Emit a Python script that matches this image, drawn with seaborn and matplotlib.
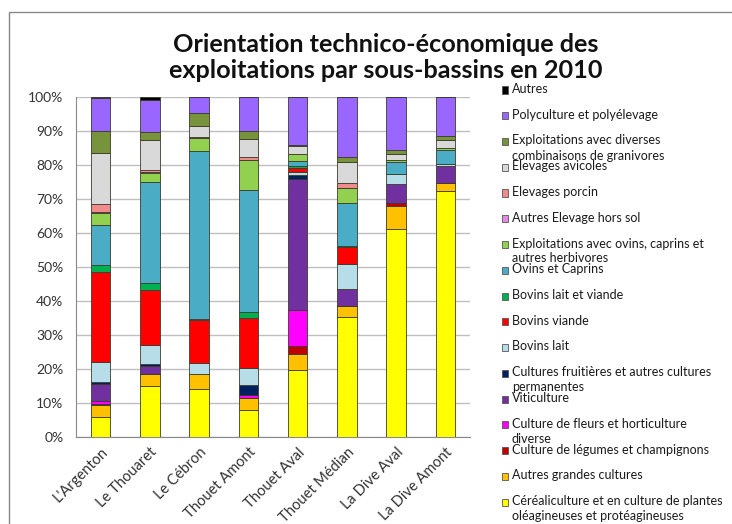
import pandas as pd
import numpy as np
import matplotlib
matplotlib.use('Agg')
import matplotlib.pyplot as plt
import seaborn as sns
from matplotlib.patches import Rectangle

# Data (parts in %)
bassins = ["L'Argenton", "Le Thouaret", "Le Cébron", "Thouet Amont",
           "Thouet Aval", "Thouet Médian", "La Dive Aval", "La Dive Amont"]

# legend order (top -> bottom), stack order is the reverse
types = ["Autres",
         "Polyculture et polyélevage",
         "Exploitations avec diverses\ncombinaisons de granivores",
         "Elevages avicoles",
         "Elevages porcin",
         "Autres Elevage hors sol",
         "Exploitations avec ovins, caprins et\nautres herbivores",
         "Ovins et Caprins",
         "Bovins lait et viande",
         "Bovins viande",
         "Bovins lait",
         "Cultures fruitières et autres cultures\npermanentes",
         "Viticulture",
         "Culture de fleurs et horticulture\ndiverse",
         "Culture de légumes et champignons",
         "Autres grandes cultures",
         "Céréaliculture et en culture de plantes\noléagineuses et protéagineuses"]

colors = ["#000000", "#9966FF", "#77933C", "#D9D9D9", "#F28C8C", "#E68AE6",
          "#92D050", "#4BACC6", "#00B050", "#FF0000", "#B7DEE8", "#002060",
          "#7030A0", "#FF00FF", "#C00000", "#FFC000", "#FFFF00"]

autres        = [0.4, 0.8, 0.0, 0.0, 0.0, 0.0, 0.0, 0.0]
polyculture   = [9.6, 9.5, 4.7, 10.0, 14.0, 17.5, 15.7, 11.6]
granivores    = [6.5, 2.2, 3.9, 2.3, 0.5, 1.6, 1.2, 1.1]
avicoles      = [14.9, 8.9, 3.2, 5.3, 2.2, 6.2, 1.5, 2.2]
porcin        = [2.5, 0.8, 0.2, 1.0, 0.0, 1.4, 0.0, 0.0]
hors_sol      = [0.2, 0.2, 0.0, 0.0, 0.0, 0.0, 0.0, 0.0]
ovins_herb    = [3.6, 2.6, 4.0, 8.7, 2.2, 4.5, 0.7, 0.8]
ovins_caprins = [11.6, 29.6, 49.2, 35.9, 1.5, 12.6, 3.4, 4.1]
bovins_mixte  = [2.2, 2.1, 0.3, 1.8, 0.5, 0.3, 0.0, 0.0]
bovins_viande = [26.5, 16.3, 12.7, 14.7, 1.1, 4.9, 0.0, 0.0]
bovins_lait   = [5.9, 5.6, 3.2, 5.0, 1.0, 7.4, 3.2, 0.6]
fruitieres    = [0.4, 0.6, 0.0, 2.8, 1.0, 0.0, 0.0, 0.0]
viticulture   = [5.2, 2.4, 0.0, 0.0, 38.7, 5.2, 5.5, 4.9]
fleurs        = [0.7, 0.0, 0.0, 0.9, 10.5, 0.0, 0.0, 0.0]
legumes       = [0.3, 0.0, 0.0, 0.0, 2.3, 0.0, 1.0, 0.0]
grandes_cult  = [3.6, 3.4, 4.6, 3.6, 4.9, 3.1, 6.5, 2.2]
cereales      = [5.9, 15.0, 14.0, 8.0, 19.6, 35.3, 61.3, 72.5]

series = [autres, polyculture, granivores, avicoles, porcin, hors_sol,
          ovins_herb, ovins_caprins, bovins_mixte, bovins_viande, bovins_lait,
          fruitieres, viticulture, fleurs, legumes, grandes_cult, cereales]

rows = []
for t, vals in zip(types, series):
    for b, v in zip(bassins, vals):
        rows.append({"bassin": b, "type": t, "pct": v})
df = pd.DataFrame(rows)
df["x"] = df["bassin"].map({b: i for i, b in enumerate(bassins)})

sns.set_style("white")
plt.rcParams['font.family'] = ['Lato', 'DejaVu Sans']

W, H = 732, 524
fig = plt.figure(figsize=(W / 100, H / 100), dpi=100)
ax = fig.add_axes([76 / W, 1 - 437 / H, (470 - 76) / W, (437 - 97) / H])

sns.histplot(data=df, x="x", weights="pct", hue="type", hue_order=types,
             palette=dict(zip(types, colors)), multiple="stack", discrete=True,
             shrink=0.4, alpha=1, edgecolor="#3b3b2b", linewidth=0.6,
             legend=False, ax=ax, zorder=3)

ax.set_xlim(-0.5, 7.5)
ax.set_ylim(0, 100)
ax.set_yticks(np.arange(0, 101, 10))
ax.set_yticklabels([f"{v}%" for v in range(0, 101, 10)], fontsize=10, color="#333333")
ax.set_xticks(range(len(bassins)))
ax.set_xticklabels(bassins, rotation=45, ha="right", rotation_mode="anchor",
                   fontsize=10.5, color="#333333")
ax.set_xticks(np.arange(-0.5, 8, 1), minor=True)
ax.tick_params(axis="x", which="major", length=0, pad=6)
ax.tick_params(axis="x", which="minor", length=5, direction="inout", color="#888888")
ax.tick_params(axis="y", length=5, direction="out", color="#888888", pad=4)
ax.set_xlabel("")
ax.set_ylabel("")
ax.yaxis.grid(True, color="#BFBFBF", linewidth=1, zorder=0)
ax.set_axisbelow(True)
for s in ["top", "right"]:
    ax.spines[s].set_visible(False)
for s in ["left", "bottom"]:
    ax.spines[s].set_color("#888888")

# title
fig.text(386 / W, 1 - 57.5 / H, "Orientation technico-économique des\nexploitations par sous-bassins en 2010",
         ha="center", va="center", fontsize=18.2, fontweight="bold", linespacing=1.15,
         color="#111111")

# chart frame
fig.add_artist(Rectangle((9 / W, -0.1), 1.2, 1.1 - 12 / H, transform=fig.transFigure,
                         fill=False, edgecolor="#888888", linewidth=1))

# legend, drawn by hand like the Excel one
for i, (t, c) in enumerate(zip(types, colors)):
    yc = 90 + i * 25.75
    fig.add_artist(Rectangle((502 / W, 1 - (yc + 3.5) / H), 6 / W, 7 / H,
                             transform=fig.transFigure, facecolor=c,
                             edgecolor="#555555", linewidth=0.6))
    fig.text(512 / W, 1 - (yc - 7) / H, t, ha="left", va="top", fontsize=9,
             linespacing=1.3, color="#1a1a1a")

plt.savefig("out.png", dpi=100)
